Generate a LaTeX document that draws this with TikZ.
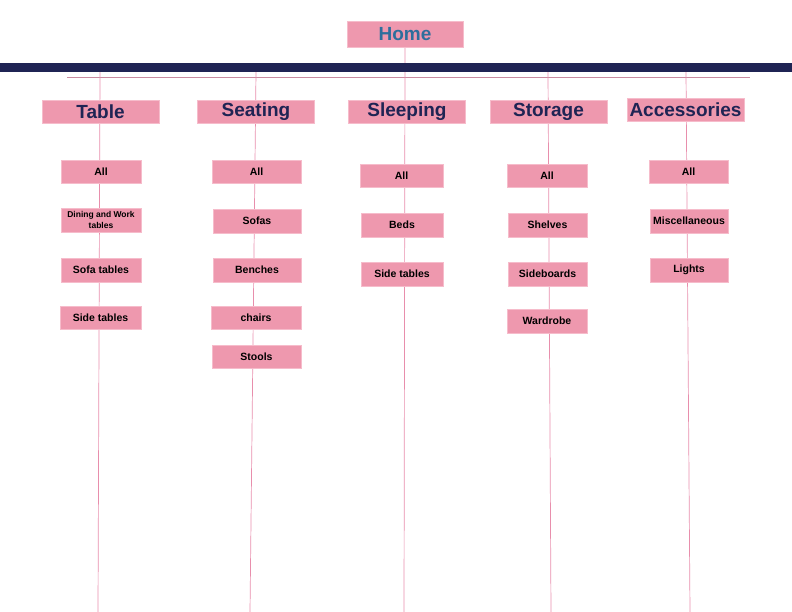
\documentclass[tikz,border=0pt]{standalone}
\usepackage{fontspec}
\setmainfont{Liberation Sans}
\usetikzlibrary{backgrounds}
\definecolor{boxpink}{HTML}{EE98AE}
\definecolor{boxedge}{HTML}{F6BCCB}
\definecolor{linepink}{HTML}{E88EAC}
\definecolor{navy}{HTML}{1F2454}
\definecolor{homeblue}{HTML}{2E6E9C}
\tikzset{
  catbox/.style={fill=boxpink, draw=boxedge, inner sep=0pt, minimum width=117pt, minimum height=23pt,
    font=\fontsize{19}{19}\selectfont\bfseries, text=navy},
  subbox/.style={fill=boxpink, draw=boxedge, inner sep=0pt, minimum height=23.5pt,
    font=\fontsize{10.5}{11}\selectfont\bfseries},
  colline/.style={linepink, line width=0.7pt}
}
\begin{document}
\begin{tikzpicture}[x=1pt,y=-1pt]
\useasboundingbox (0,0) rectangle (792,612);
% Top bar
\fill[navy] (0,63) rectangle (792,72);
\node[catbox, minimum width=116pt, minimum height=26pt, text=homeblue] (home) at (405,34) {Home};
% Categories
\node[catbox] (table) at (100.5,111.5) {Table};
\node[catbox] (seating) at (256,111.5) {Seating};
\node[catbox] (sleeping) at (407,111.5) {Sleeping};
\node[catbox] (storage) at (548.5,111.5) {Storage};
\node[catbox] (accessories) at (685.5,109.5) {Accessories};
% Table items
\node[subbox, minimum width=80pt] (tableall) at (101,171.5) {All};
\node[subbox, minimum width=80pt, align=center, font=\fontsize{8.5}{11}\selectfont\bfseries] (dining) at (101,220) {Dining and Work\\tables};
\node[subbox, minimum width=80pt] (sofatables) at (101,270) {Sofa tables};
\node[subbox, minimum width=81pt] (tablesides) at (100.5,317.5) {Side tables};
% Seating items
\node[subbox, minimum width=89pt] (seatall) at (256.5,171.5) {All};
\node[subbox, minimum width=88pt] (sofas) at (257,221) {Sofas};
\node[subbox, minimum width=88pt] (benches) at (257,270) {Benches};
\node[subbox, minimum width=90pt] (chairs) at (256,317.5) {chairs};
\node[subbox, minimum width=89pt] (stools) at (256.5,356.5) {Stools};
% Sleeping items
\node[subbox, minimum width=83pt] (sleepall) at (401.5,175.5) {All};
\node[subbox, minimum width=82pt] (beds) at (402,225) {Beds};
\node[subbox, minimum width=82pt] (sleepsides) at (402,274) {Side tables};
% Storage items
\node[subbox, minimum width=80pt] (storeall) at (547,175.5) {All};
\node[subbox, minimum width=79pt] (shelves) at (547.5,225) {Shelves};
\node[subbox, minimum width=79pt] (sideboards) at (547.5,274) {Sideboards};
\node[subbox, minimum width=80pt] (wardrobe) at (547,321) {Wardrobe};
% Accessories items
\node[subbox, minimum width=79pt] (accall) at (688.5,171.5) {All};
\node[subbox, minimum width=78pt] (misc) at (689,221) {Miscellaneous};
\node[subbox, minimum width=78pt] (lights) at (689,270) {Lights};
% Column ends
\coordinate (tabletop) at (100,72);
\coordinate (tablebot) at (98,612);
\coordinate (seattop) at (256,72);
\coordinate (seatbot) at (250,612);
\coordinate (sleepbot) at (404,612);
\coordinate (storetop) at (548,72);
\coordinate (storebot) at (551,612);
\coordinate (acctop) at (686,72);
\coordinate (accbot) at (690,612);
\coordinate (ruleleft) at (67,77);
\coordinate (ruleright) at (750,77);
% Lines
\begin{scope}[on background layer]
\draw[linepink!70!gray, line width=0.6pt] (ruleleft) -- (ruleright);
\draw[colline] (tabletop) -- (tablebot);
\draw[colline] (seattop) -- (seatbot);
\draw[colline] (home.south) -- (sleepbot);
\draw[colline] (storetop) -- (storebot);
\draw[colline] (acctop) -- (accbot);
\end{scope}
\end{tikzpicture}
\end{document}
